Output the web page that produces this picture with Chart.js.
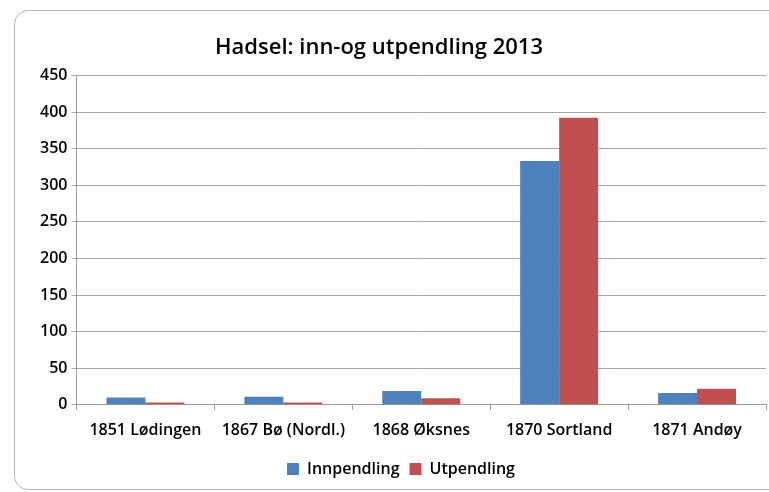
<!DOCTYPE html>
<html>
<head>
<meta charset="utf-8">
<script src="https://cdn.jsdelivr.net/npm/chart.js@4"></script>
<style>
  body { margin: 0; background: #fff; }
  #box {
    position: absolute; left: 14px; top: 10px; width: 770px; height: 480px;
    border: 1px solid #b8b8b8; border-radius: 14px; box-sizing: border-box; overflow: hidden;
  }
  #wrap { position: absolute; left: 0; top: 0; width: 755px; height: 484px; }
</style>
</head>
<body>
<div id="box"><div id="wrap"><canvas id="c"></canvas></div></div>
<script>
  const categories = ['1851 Lødingen', '1867 Bø (Nordl.)', '1868 Øksnes', '1870 Sortland', '1871 Andøy'];
  const innpendling = [10, 11, 19, 333, 16];
  const utpendling = [3, 3, 9, 392, 22];
  const yTicks = [0, 50, 100, 150, 200, 250, 300, 350, 400, 450];

  const font = "'Open Sans', 'Liberation Sans', sans-serif";

  // title sits a bit left of centre in the original
  const shiftTitle = {
    id: 'shiftTitle',
    afterLayout(chart) { if (chart.titleBlock) chart.titleBlock.left -= 44; }
  };

  new Chart(document.getElementById('c'), {
    type: 'bar',
    data: {
      labels: categories,
      datasets: [
        { label: 'Innpendling', data: innpendling, backgroundColor: '#4F81BD' },
        { label: 'Utpendling', data: utpendling, backgroundColor: '#C0504D' }
      ]
    },
    plugins: [shiftTitle],
    options: {
      responsive: true,
      maintainAspectRatio: false,
      animation: false,
      layout: { padding: { left: 21, right: 4, top: 10, bottom: 8 } },
      datasets: { bar: { categoryPercentage: 0.565, barPercentage: 1 } },
      scales: {
        x: {
          grid: { drawOnChartArea: false, offset: true, tickLength: 5, color: '#999' },
          border: { color: '#999' },
          ticks: { color: '#000', font: { family: font, size: 16, weight: '600' }, padding: 11 }
        },
        y: {
          min: 0, max: 450,
          afterBuildTicks: (axis) => { axis.ticks = yTicks.map(v => ({ value: v })); },
          grid: { color: '#a6a6a6', tickLength: 5 },
          border: { color: '#999' },
          ticks: { color: '#000', font: { family: font, size: 16, weight: '600' }, padding: 4 }
        }
      },
      plugins: {
        title: {
          display: true,
          text: 'Hadsel: inn-og utpendling 2013',
          color: '#000',
          font: { family: font, size: 22, weight: '600' },
          padding: { top: 14, bottom: 14 }
        },
        legend: {
          position: 'bottom',
          labels: { color: '#000', font: { family: font, size: 16, weight: '600' }, boxWidth: 12, boxHeight: 12, padding: 10 }
        },
        tooltip: { enabled: false }
      }
    }
  });
</script>
</body>
</html>
